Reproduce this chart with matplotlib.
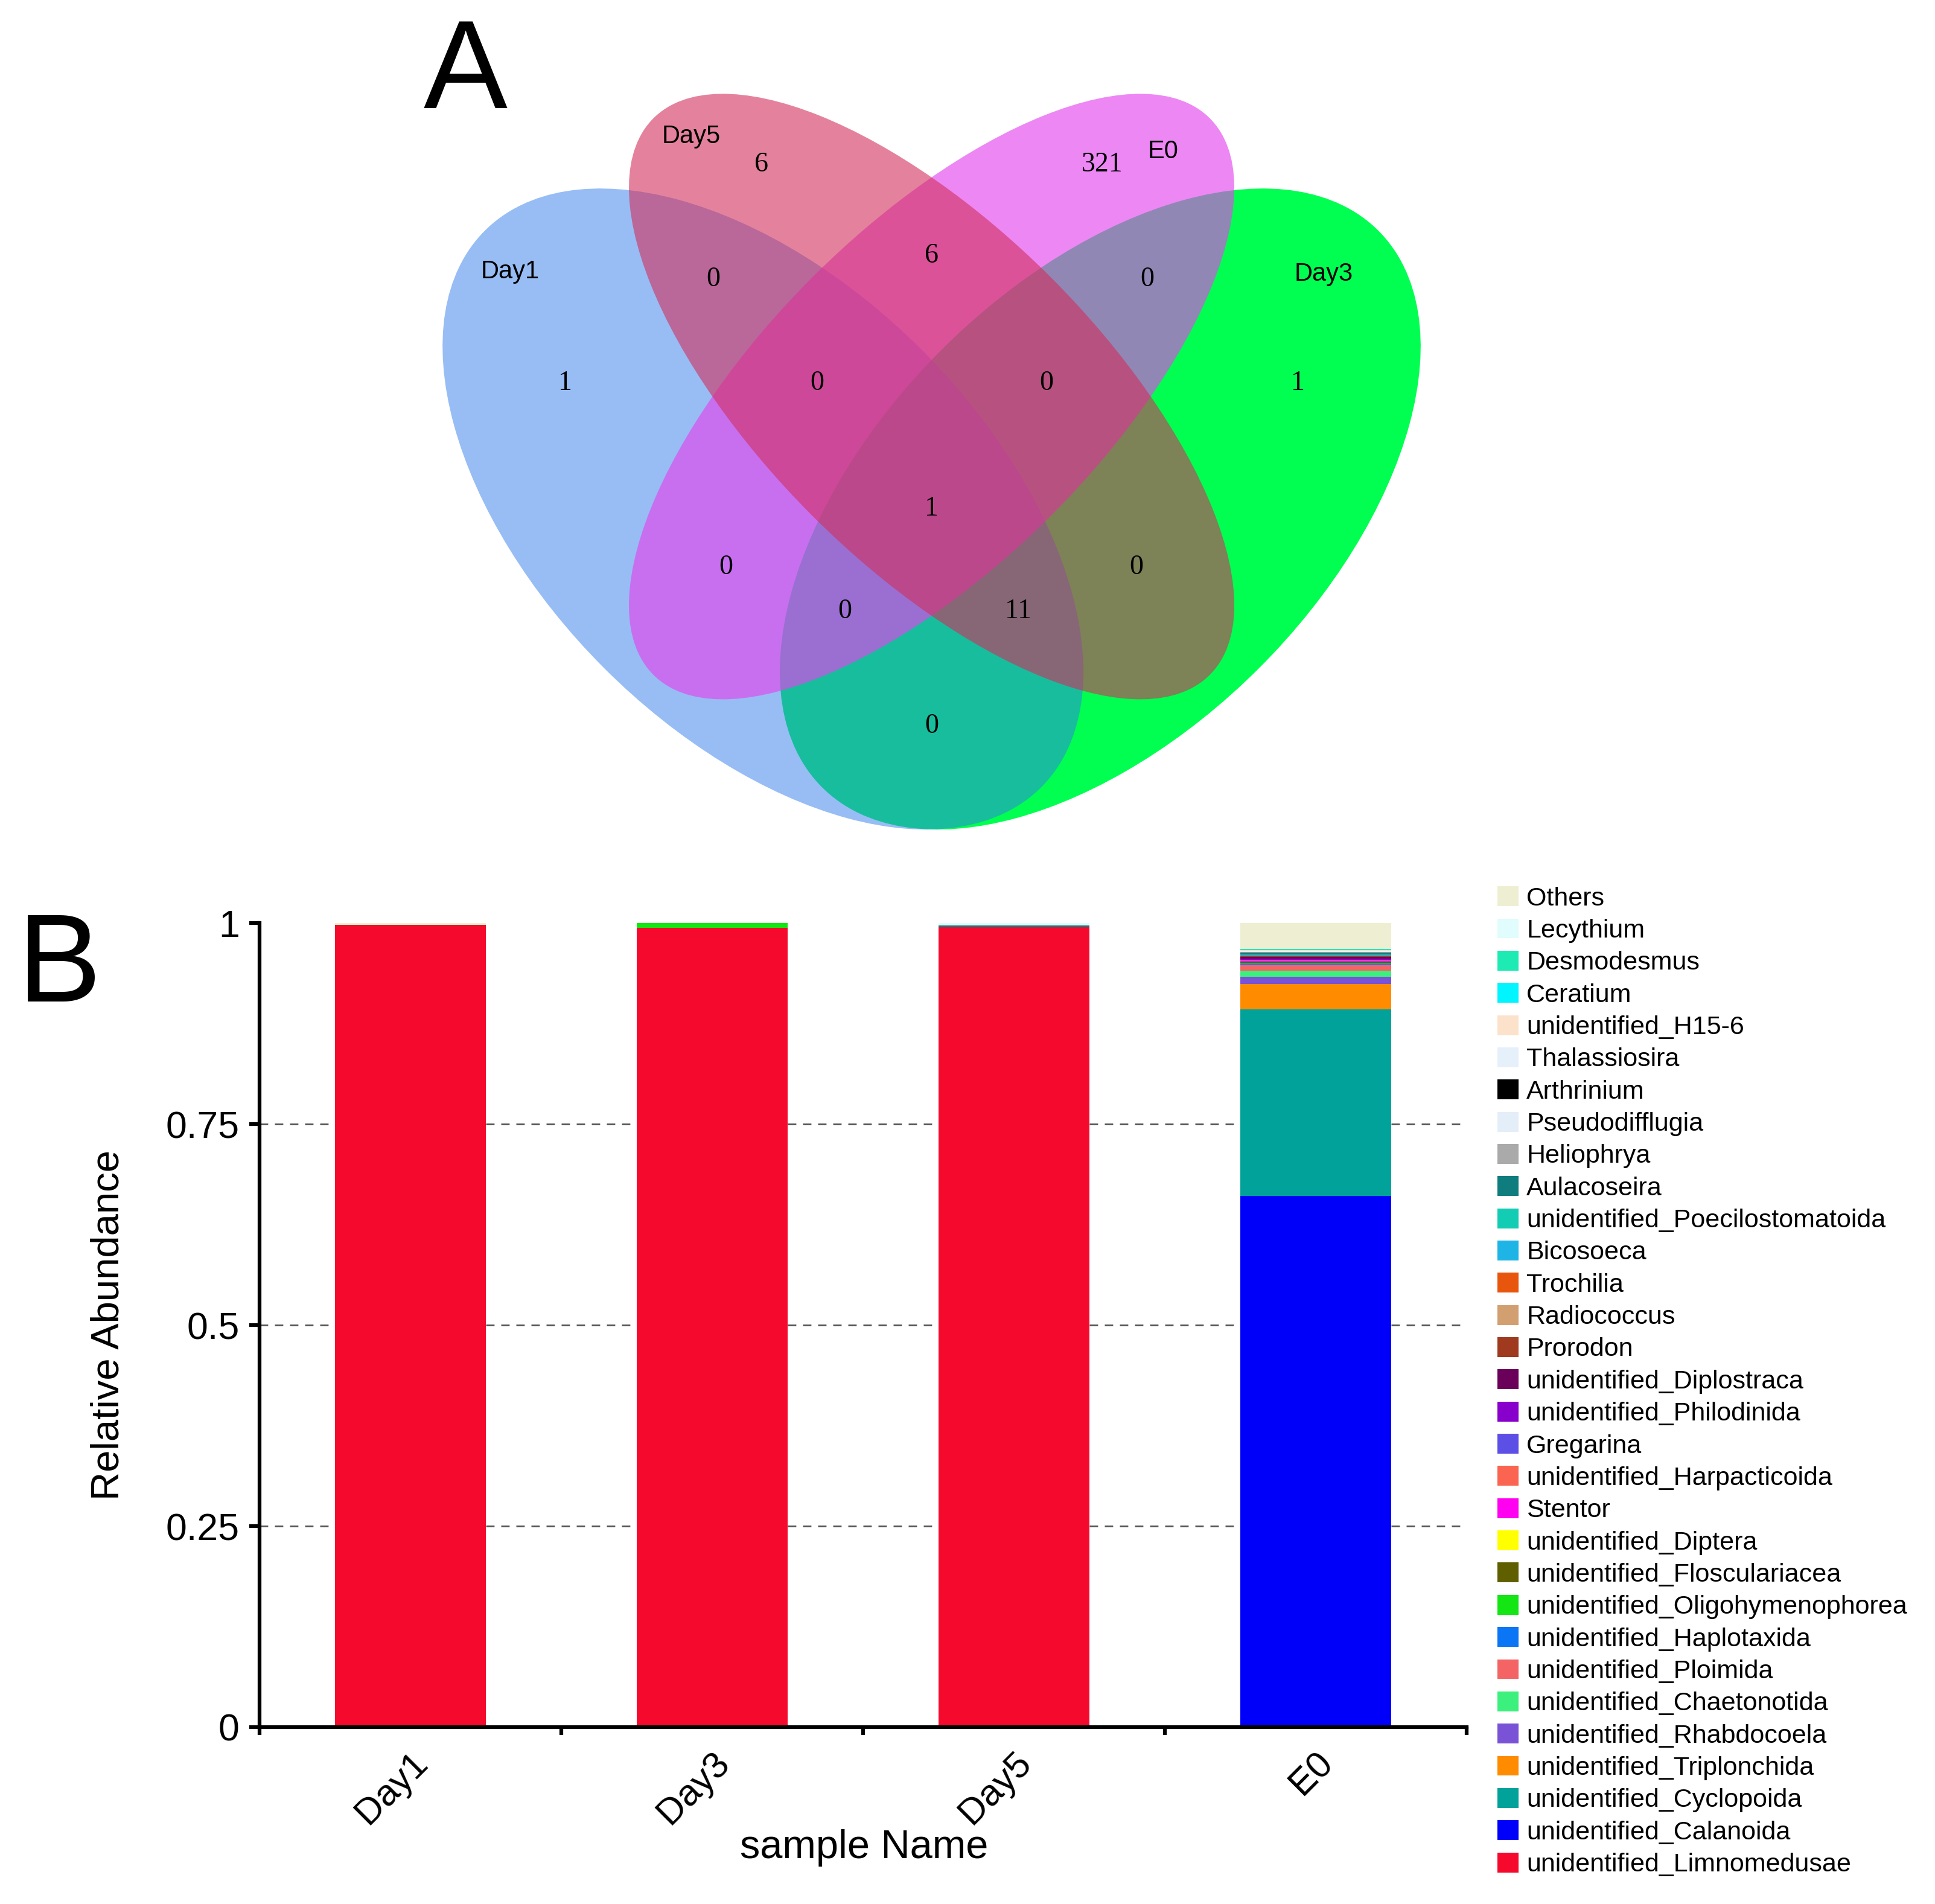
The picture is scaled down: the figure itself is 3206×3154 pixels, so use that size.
import matplotlib
matplotlib.use("Agg")
import matplotlib.pyplot as plt
from matplotlib.patches import Ellipse, Patch
from matplotlib.transforms import ScaledTranslation
import numpy as np

plt.rcParams["font.family"] = ["Liberation Sans", "DejaVu Sans"]

# ---------------- panel A: Venn counts ----------------
venn_names = ["Day1", "Day5", "E0", "Day3"]
# region key = membership flags in the order Day1, Day5, E0, Day3
venn_counts = {
    "1000": 1, "0100": 6, "0010": 321, "0001": 1,
    "1100": 0, "0110": 6, "0011": 0, "1010": 0, "0101": 0, "1001": 0,
    "1110": 0, "0111": 0, "1011": 0, "1101": 11, "1111": 1,
}

# ---------------- panel B: relative abundance ----------------
samples = ["Day1", "Day3", "Day5", "E0"]
# stacking order, bottom to top
taxa = [
    "unidentified_Limnomedusae", "unidentified_Calanoida", "unidentified_Cyclopoida",
    "unidentified_Triplonchida", "unidentified_Rhabdocoela", "unidentified_Chaetonotida",
    "unidentified_Ploimida", "unidentified_Haplotaxida", "unidentified_Oligohymenophorea",
    "unidentified_Flosculariacea", "unidentified_Diptera", "Stentor",
    "unidentified_Harpacticoida", "Gregarina", "unidentified_Philodinida",
    "unidentified_Diplostraca", "Prorodon", "Radiococcus", "Trochilia", "Bicosoeca",
    "unidentified_Poecilostomatoida", "Aulacoseira", "Heliophrya", "Pseudodifflugia",
    "Arthrinium", "Thalassiosira", "unidentified_H15-6", "Ceratium", "Desmodesmus",
    "Lecythium", "Others",
]
taxon_colors = [
    "#F5092D", "#0000FA", "#00A29A", "#FF8C00", "#7A52D6", "#3CF07D",
    "#F56464", "#0A75F5", "#14E614", "#5F5F00", "#FFFF00", "#FF00F0",
    "#FA6450", "#5C4FE6", "#8800CC", "#6B005B", "#A03A1E", "#D2A070",
    "#E8560E", "#1EB4E6", "#12CCB4", "#0F7D7D", "#AAAAAA", "#E4EEF9",
    "#000000", "#E6F0FA", "#FCE2CA", "#00F5FF", "#1EEBB4", "#E0FCFC",
    "#EEEED2",
]
day1 = [0.997] + [0] * 15 + [0.001] + [0] * 13 + [0.002]
day3 = [0.994] + [0] * 7 + [0.006] + [0] * 22
day5 = [0.995] + [0] * 20 + [0.002] + [0] * 7 + [0.003, 0]
e0 = [0, 0.661, 0.232, 0.031, 0.009, 0.0075, 0.0075, 0.002, 0.0005, 0.0005,
      0.0005, 0.001, 0.001, 0.001, 0.001, 0.0025, 0.0005, 0.0005, 0.0005,
      0.0005, 0.001, 0.0025, 0.0005, 0.0005, 0.0005, 0.0005, 0.0005, 0.0005,
      0.001, 0.0005, 0.032]

fig = plt.figure(figsize=(32.06, 31.54), dpi=100)

# ---- Venn ----
axv = fig.add_axes([0.1909, 0.5437, 0.5811, 0.4429])
axv.set_xlim(0, 1)
axv.set_ylim(0.15, 0.9)
axv.set_aspect("equal")
axv.axis("off")

# ellipse geometry (VennDiagram quad layout), drawn Day3 first
shapes = {
    "Day3": dict(xy=(0.65, 0.47), a=0.35, b=0.2, angle=45, fc="#00FF50", alpha=1.0),
    "Day1": dict(xy=(0.35, 0.47), a=0.35, b=0.2, angle=-45, fc="#317DEB", alpha=0.5),
    "E0": dict(xy=(0.5, 0.57), a=0.35, b=0.15, angle=45, fc="#E443EF", alpha=0.64),
    "Day5": dict(xy=(0.5, 0.57), a=0.35, b=0.15, angle=-45, fc="#D22F5D", alpha=0.6),
}
for name, s in shapes.items():
    axv.add_patch(Ellipse(s["xy"], 2 * s["a"], 2 * s["b"], angle=s["angle"],
                          facecolor=s["fc"], alpha=s["alpha"], linewidth=0))

count_pos = {
    "0100": (0.3485, 0.776), "0010": (0.6515, 0.776),
    "1000": (0.174, 0.582), "0001": (0.826, 0.582),
    "1100": (0.306, 0.674), "0110": (0.5, 0.695), "0011": (0.692, 0.674),
    "1110": (0.398, 0.582), "0111": (0.602, 0.582), "1111": (0.5, 0.47),
    "1010": (0.317, 0.418), "0101": (0.682, 0.418),
    "1011": (0.423, 0.379), "1101": (0.577, 0.379), "1001": (0.5, 0.277),
}
for key, n in venn_counts.items():
    x, y = count_pos[key]
    axv.text(x, y, str(n), ha="center", va="center", fontsize=33,
             family=["Liberation Serif", "DejaVu Serif"])

name_pos = {"Day1": (0.125, 0.681), "Day5": (0.286, 0.8015),
            "E0": (0.706, 0.788), "Day3": (0.849, 0.679)}
for name in venn_names:
    x, y = name_pos[name]
    axv.text(x, y, name, ha="center", va="center", fontsize=30)

fig.text(771 / 3206, 1 - 125 / 3154, "A", ha="center", va="center", fontsize=150)
fig.text(98 / 3206, 1 - 1605 / 3154, "B", ha="center", va="center", fontsize=150)

# ---- stacked bars ----
ax = fig.add_axes([0.1341, 0.0929, 0.6238, 0.4223])
table = np.array([day1, day3, day5, e0])
xpos = np.arange(len(samples))
bottom = np.zeros(len(samples))
handles = []
for i, taxon in enumerate(taxa):
    ax.bar(xpos, table[:, i], 0.5, bottom=bottom, color=taxon_colors[i],
           linewidth=0, zorder=2)
    bottom += table[:, i]
    handles.append(Patch(facecolor=taxon_colors[i], label=taxon))

ax.set_xlim(-0.5, 3.5)
ax.set_ylim(0, 1)
yticks = [0, 0.25, 0.5, 0.75, 1]
for yv in yticks[1:-1]:
    ax.axhline(yv, color="#555555", lw=2, ls=(0, (5, 4)), zorder=1)
ax.set_yticks(yticks)
ax.set_yticklabels(["0", "0.25", "0.5", "0.75", "1"], fontsize=45)
ax.set_xticks(np.arange(-0.5, 4, 1))
ax.set_xticklabels([])
ax.set_xticks(xpos, minor=True)
ax.set_xticklabels(samples, minor=True, fontsize=44, rotation=45,
                   ha="right", rotation_mode="anchor")
shift = ScaledTranslation(-0.15, 0.03, fig.dpi_scale_trans)
for lab in ax.get_xticklabels(minor=True):
    lab.set_transform(lab.get_transform() + shift)
ax.tick_params(axis="x", which="minor", length=0, pad=22)
ax.tick_params(axis="x", which="major", length=9, width=4.5, direction="out")
ax.tick_params(axis="y", length=12, width=4.5, pad=12)
for side in ("top", "right"):
    ax.spines[side].set_visible(False)
for side in ("left", "bottom"):
    ax.spines[side].set_linewidth(4.5)

ax.set_ylabel("Relative Abundance", fontsize=47)
ax.yaxis.set_label_coords(-0.11, 0.5)
ax.set_xlabel("sample Name", fontsize=48)
ax.xaxis.set_label_coords(0.501, -0.127)

fig.legend(handles[::-1], [h.get_label() for h in handles[::-1]],
           loc="upper left", bbox_to_anchor=(0.7739, 0.5345), frameon=False,
           fontsize=31, handlelength=0.8, handleheight=0.8, handletextpad=0.32,
           labelspacing=0.30, borderpad=0, borderaxespad=0)

fig.savefig("out.png", dpi=100)
